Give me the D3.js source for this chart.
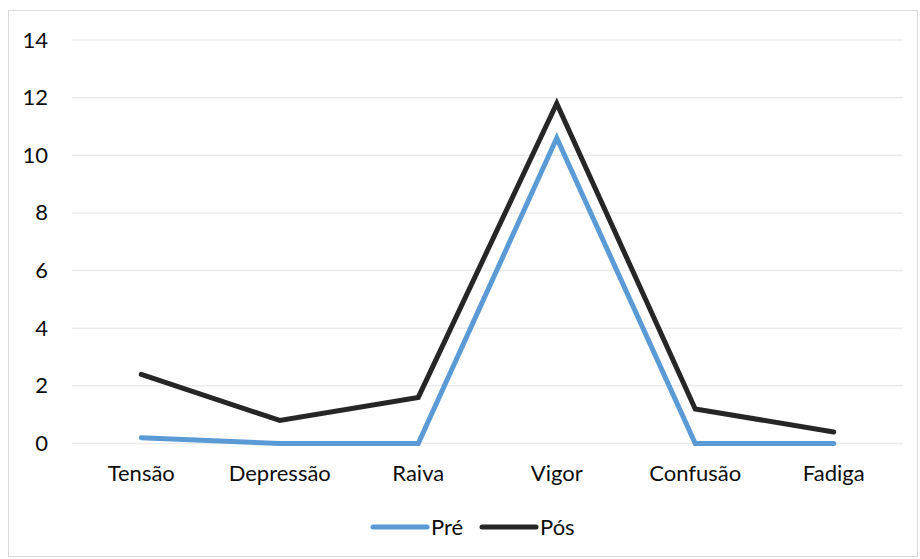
<!DOCTYPE html>
<html><head><meta charset="utf-8">
<script src="https://cdn.jsdelivr.net/npm/d3@7"></script>
<style>body{margin:0;background:#fff;} text{font-family:Lato, "Open Sans", sans-serif;}</style>
</head><body>
<svg id="c" width="920" height="559"></svg>
<script>
const categories = ["Tensão","Depressão","Raiva","Vigor","Confusão","Fadiga"];
const pre = [0.2, 0, 0, 10.6, 0, 0];
const pos = [2.4, 0.8, 1.6, 11.8, 1.2, 0.4];
const yTicks = [0,2,4,6,8,10,12,14];
const seriesNames = ["Pré","Pós"];
const colors = ["#5B9BD5","#262626"];

const svg = d3.select("#c");
svg.append("rect").attr("x",8.5).attr("y",10.5).attr("width",909).attr("height",546)
  .attr("fill","#fff").attr("stroke","#d9d9d9").attr("stroke-width",1);

const pL=72, pR=903, pT=40, pB=443.5;
const x = d3.scaleBand().domain(categories).range([pL,pR]);
const y = d3.scaleLinear().domain([0,14]).range([pB,pT]);

const grid = svg.append("g");
grid.selectAll("line").data(yTicks).join("line")
  .attr("x1",pL).attr("x2",pR).attr("y1",d=>y(d)).attr("y2",d=>y(d))
  .attr("stroke","#ebebeb").attr("stroke-width",1.5);

const yAxis = svg.append("g").attr("transform",`translate(${pL},0)`)
  .call(d3.axisLeft(y).tickValues(yTicks).tickSize(0).tickPadding(24));
yAxis.select(".domain").remove();
yAxis.selectAll("text").attr("font-size",22).attr("fill","#0d0d0d").style("font-family","Lato, sans-serif");

const xAxis = svg.append("g").attr("transform",`translate(0,${pB})`)
  .call(d3.axisBottom(x).tickSize(0).tickPadding(22));
xAxis.select(".domain").remove();
xAxis.selectAll("text").attr("font-size",22).attr("fill","#0d0d0d").style("font-family","Lato, sans-serif");

const line = d3.line().x((d,i)=>x(categories[i])+x.bandwidth()/2).y(d=>y(d));
[pre,pos].forEach((s,k)=>{
  svg.append("path").datum(s).attr("d",line).attr("fill","none")
    .attr("stroke",colors[k]).attr("stroke-width",5)
    .attr("stroke-linejoin","miter").attr("stroke-linecap","round");
});

const legend = svg.append("g");
const lx = [373, 482];
seriesNames.forEach((n,k)=>{
  legend.append("line").attr("x1",lx[k]).attr("x2",lx[k]+54).attr("y1",527).attr("y2",527)
    .attr("stroke",colors[k]).attr("stroke-width",5).attr("stroke-linecap","round");
  legend.append("text").attr("x",lx[k]+58).attr("y",527).attr("dy","0.36em")
    .attr("font-size",22).attr("fill","#0d0d0d").text(n);
});
</script>
</body></html>
